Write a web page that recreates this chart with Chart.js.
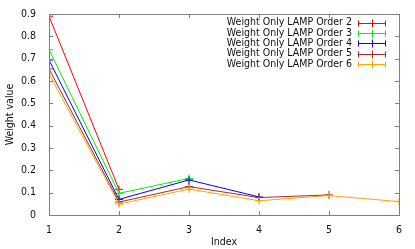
<!DOCTYPE html>
<html>
<head>
<meta charset="utf-8">
<script src="https://cdn.jsdelivr.net/npm/chart.js@4/dist/chart.umd.min.js"></script>
<style>
  body { margin: 0; background: #fff; }
</style>
</head>
<body>
<canvas id="chart" width="415" height="249"></canvas>
<script>
const seriesNames = [
  'Weight Only LAMP Order 2',
  'Weight Only LAMP Order 3',
  'Weight Only LAMP Order 4',
  'Weight Only LAMP Order 5',
  'Weight Only LAMP Order 6',
];
const order2 = [0.89, 0.115];
const order3 = [0.74, 0.097, 0.164];
const order4 = [0.694, 0.07, 0.157, 0.081];
const order5 = [0.654, 0.058, 0.127, 0.078, 0.09];
const order6 = [0.632, 0.049, 0.116, 0.064, 0.087, 0.06];
const colors = ['#ff0000', '#00ee00', '#0000ff', '#a52a2a', '#ffa500'];

const FONT = 'DejaVu Sans Condensed';
const FSIZE = 10.5;
const GRAY = '#808080';
const TEXT = '#111';

const toPoints = (vals) => vals.map((v, i) => ({ x: i + 1, y: v }));

const datasets = [order2, order3, order4, order5, order6].map((vals, i) => ({
  label: seriesNames[i],
  data: toPoints(vals),
  borderColor: colors[i],
  backgroundColor: colors[i],
  borderWidth: 1,
  pointStyle: 'cross',
  pointRadius: 4,
  pointBorderWidth: 1,
  tension: 0,
  order: 4 - i, // later series drawn on top, like gnuplot
}));

// frame, inward ticks and gnuplot-like legend
const frame = {
  id: 'frame',
  afterDatasetsDraw(chart) {
    const { ctx, chartArea: a, scales } = chart;
    ctx.save();
    ctx.strokeStyle = GRAY;
    ctx.lineWidth = 1;
    ctx.strokeRect(a.left + 0.5, a.top + 0.5, a.right - a.left, a.bottom - a.top);
    ctx.beginPath();
    scales.y.ticks.forEach((t) => {
      const y = Math.round(scales.y.getPixelForValue(t.value)) + 0.5;
      ctx.moveTo(a.left, y); ctx.lineTo(a.left + 4, y);
      ctx.moveTo(a.right, y); ctx.lineTo(a.right - 4, y);
    });
    scales.x.ticks.forEach((t) => {
      const x = Math.round(scales.x.getPixelForValue(t.value)) + 0.5;
      ctx.moveTo(x, a.bottom); ctx.lineTo(x, a.bottom - 4);
      ctx.moveTo(x, a.top); ctx.lineTo(x, a.top + 4);
    });
    ctx.stroke();

    // legend
    ctx.font = FSIZE + 'px "' + FONT + '"';
    ctx.textAlign = 'right';
    ctx.textBaseline = 'middle';
    const textRight = 352;
    const x0 = 358, x1 = 386;
    seriesNames.forEach((name, i) => {
      const y = 22.5 + i * 10.4;
      ctx.fillStyle = TEXT;
      ctx.fillText(name, textRight, y);
      const yy = Math.round(y) + 0.5;
      ctx.strokeStyle = colors[i];
      ctx.beginPath();
      ctx.moveTo(x0, yy); ctx.lineTo(x1, yy);
      ctx.moveTo(x0 + 0.5, yy - 3); ctx.lineTo(x0 + 0.5, yy + 3);
      ctx.moveTo(x1 - 0.5, yy - 3); ctx.lineTo(x1 - 0.5, yy + 3);
      const xm = Math.round((x0 + x1) / 2) + 0.5;
      ctx.moveTo(xm, yy - 4); ctx.lineTo(xm, yy + 4);
      ctx.stroke();
    });
    ctx.restore();
  },
};

new Chart(document.getElementById('chart').getContext('2d'), { // eslint-disable-line no-new
  type: 'line',
  data: { datasets },
  options: {
    responsive: false,
    animation: false,
    layout: { padding: { left: 0, top: 14, right: 16, bottom: 0 } },
    plugins: {
      legend: { display: false },
      tooltip: { enabled: false },
    },
    scales: {
      x: {
        type: 'linear',
        min: 1,
        max: 6,
        grid: { display: false },
        border: { display: false },
        ticks: {
          stepSize: 1,
          padding: 1,
          color: TEXT,
          font: { family: FONT, size: FSIZE },
        },
        title: {
          display: true,
          text: 'Index',
          color: TEXT,
          font: { family: FONT, size: FSIZE },
          padding: { top: 0, bottom: 0 },
        },
        afterFit(scale) { scale.height = 34; },
      },
      y: {
        min: 0,
        max: 0.9,
        grid: { display: false },
        border: { display: false },
        ticks: {
          stepSize: 0.1,
          padding: 5,
          color: TEXT,
          font: { family: FONT, size: FSIZE },
          callback: (v) => (Math.round(v * 10) / 10).toString(),
        },
        title: {
          display: true,
          text: 'Weight value',
          color: TEXT,
          font: { family: FONT, size: FSIZE },
          padding: { top: 4, bottom: 4 },
        },
        afterFit(scale) { scale.width = 49; },
      },
    },
  },
  plugins: [frame],
});
</script>
</body>
</html>
